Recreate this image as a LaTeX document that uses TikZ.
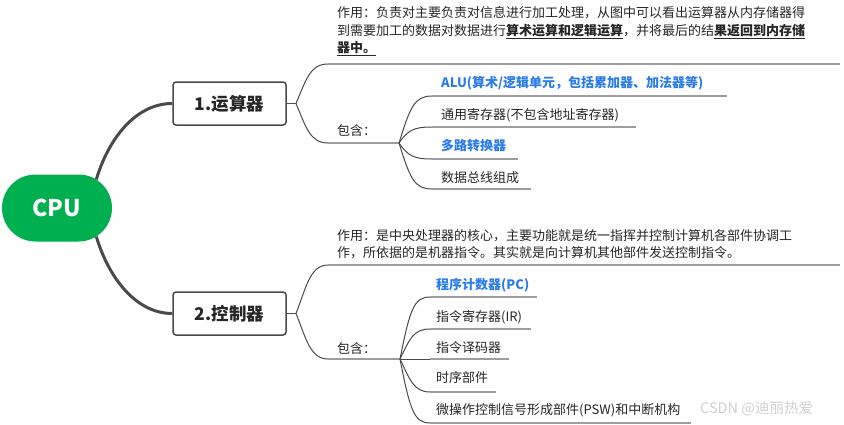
\documentclass[tikz,border=0pt]{standalone}
\usepackage{fontspec}
\setmainfont{Noto Sans CJK SC}
\usetikzlibrary{shapes.misc}
\definecolor{cpugreen}{HTML}{00B050}
\definecolor{itemblue}{HTML}{2B7CE9}
\definecolor{txt}{HTML}{262626}
\definecolor{darkline}{HTML}{4A4A4A}
\definecolor{lightline}{HTML}{9E9E9E}
\definecolor{mark}{HTML}{D0D0D0}
\tikzset{
  rootnode/.style={rounded rectangle, fill=cpugreen, text=white, minimum width=110pt, minimum height=67pt, inner sep=0pt, font=\fontsize{23}{26}\selectfont\bfseries},
  topicbox/.style={draw=darkline, line width=1.5pt, rounded corners=3pt, fill=white, minimum width=113pt, minimum height=43pt, inner sep=0pt, text=txt, font=\fontsize{17.5}{20}\selectfont\bfseries},
  mainconn/.style={draw=darkline, line width=3pt},
  branchconn/.style={draw=darkline, line width=1pt},
  baseline/.style={draw=lightline, line width=1.6pt},
  itemtext/.style={anchor=west, inner sep=0pt, text=txt, font=\fontsize{13}{16}\selectfont},
  bluetext/.style={itemtext, text=itemblue, font=\fontsize{13}{16}\selectfont\bfseries},
  desctext/.style={anchor=west, inner sep=0pt, align=left, text=txt, font=\fontsize{13}{17.5}\selectfont},
}
\begin{document}
\begin{tikzpicture}[x=1pt,y=-1pt]
\useasboundingbox (0,0) rectangle (844,424);

% root and topics
\node[rootnode] (cpu) at (57,208) {CPU};
\node[topicbox] (alu) at (229.5,103.5) {1.运算器};
\node[topicbox] (ctl) at (229.5,313.5) {2.控制器};

\draw[mainconn] (cpu.36) .. controls (108,140) and (135,103.5) .. (alu.west);
\draw[mainconn] (cpu.-36) .. controls (108,276) and (135,313.5) .. (ctl.west);

% ---------- branch 1 ----------
\coordinate (b1) at (296,103.5);
\coordinate (d1s) at (328,64);
\coordinate (d1e) at (840,64);
\coordinate (c1s) at (328,143);
\coordinate (j1) at (399,143);
\draw[branchconn] (alu.east) -- (b1);
\draw[branchconn] (b1) .. controls (306,80) and (310,64) .. (d1s);
\draw[branchconn] (b1) .. controls (306,127) and (310,143) .. (c1s);
\draw[baseline] (d1s) -- (d1e);
\draw[baseline] (c1s) -- (j1);

\node[desctext] (desc1) at (337,31.5) {作用：负责对主要负责对信息进行加工处理，从图中可以看出运算器从内存储器得\\到需要加工的数据对数据进行\underline{\textbf{算术运算和逻辑运算}}，并将最后的结\underline{\textbf{果返回到内存储}}\\\underline{\textbf{器中。}}};
\node[itemtext] (inc1) at (337,131) {包含：};

\coordinate (a1) at (432,96);   \coordinate (a1e) at (727,96);
\coordinate (a2) at (432,127);  \coordinate (a2e) at (636,127);
\coordinate (a3) at (432,159);  \coordinate (a3e) at (518,159);
\coordinate (a4) at (432,189);  \coordinate (a4e) at (531,189);
\draw[branchconn] (j1) .. controls (410,108) and (414,96) .. (a1);
\draw[branchconn] (j1) .. controls (408,130) and (414,127) .. (a2);
\draw[branchconn] (j1) .. controls (408,156) and (414,159) .. (a3);
\draw[branchconn] (j1) .. controls (410,178) and (414,189) .. (a4);
\draw[baseline] (a1) -- (a1e);
\draw[baseline] (a2) -- (a2e);
\draw[baseline] (a3) -- (a3e);
\draw[baseline] (a4) -- (a4e);
\node[bluetext] (i11) at (441,83) {ALU(算术/逻辑单元，包括累加器、加法器等)};
\node[itemtext] (i12) at (441,115) {通用寄存器(不包含地址寄存器)};
\node[bluetext] (i13) at (441,145.5) {多路转换器};
\node[itemtext] (i14) at (441,178) {数据总线组成};

% ---------- branch 2 ----------
\coordinate (b2) at (296,313.5);
\coordinate (d2s) at (328,265);
\coordinate (d2e) at (840,265);
\coordinate (c2s) at (328,359);
\coordinate (j2) at (400,359);
\draw[branchconn] (ctl.east) -- (b2);
\draw[branchconn] (b2) .. controls (306,288) and (310,265) .. (d2s);
\draw[branchconn] (b2) .. controls (306,338) and (310,359) .. (c2s);
\draw[baseline] (d2s) -- (d2e);
\draw[baseline] (c2s) -- (j2);

\node[desctext] (desc2) at (337,244) {作用：是中央处理器的核心，主要功能就是统一指挥并控制计算机各部件协调工\\作，所依据的是机器指令。其实就是向计算机其他部件发送控制指令。};
\node[itemtext] (inc2) at (337,349) {包含：};

\coordinate (p1) at (430,297);  \coordinate (p1e) at (537,297);
\coordinate (p2) at (430,329);  \coordinate (p2e) at (531,329);
\coordinate (p3) at (430,359);  \coordinate (p3e) at (509,359);
\coordinate (p4) at (430,392);  \coordinate (p4e) at (496,392);
\coordinate (p5) at (430,423);  \coordinate (p5e) at (691,423);
\draw[branchconn] (j2) .. controls (410,309) and (414,297) .. (p1);
\draw[branchconn] (j2) .. controls (410,338) and (414,329) .. (p2);
\draw[branchconn] (j2) -- (p3);
\draw[branchconn] (j2) .. controls (410,380) and (414,392) .. (p4);
\draw[branchconn] (j2) .. controls (410,410) and (414,423) .. (p5);
\draw[baseline] (p1) -- (p1e);
\draw[baseline] (p2) -- (p2e);
\draw[baseline] (p3) -- (p3e);
\draw[baseline] (p4) -- (p4e);
\draw[baseline] (p5) -- (p5e);
\node[bluetext] (i21) at (436,285) {程序计数器(PC)};
\node[itemtext] (i22) at (436,317) {指令寄存器(IR)};
\node[itemtext] (i23) at (436,348) {指令译码器};
\node[itemtext] (i24) at (436,378) {时序部件};
\node[itemtext] (i25) at (436,410) {微操作控制信号形成部件(PSW)和中断机构};

\node[itemtext, text=mark, font=\fontsize{14.5}{17}\selectfont] (wm) at (700,409) {CSDN @迪丽热爱};
\end{tikzpicture}
\end{document}
